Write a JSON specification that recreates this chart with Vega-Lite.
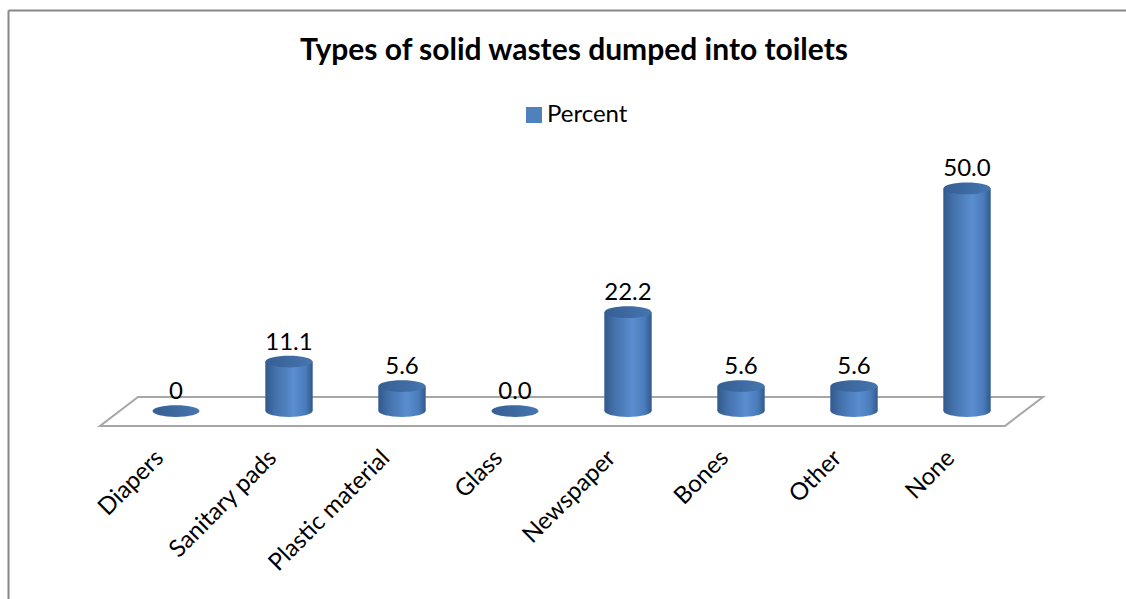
{
  "$schema": "https://vega.github.io/schema/vega-lite/v6.json",
  "autosize": {"type": "none"},
  "width": 1118,
  "height": 589,
  "padding": {"left": 8, "top": 10, "right": 0, "bottom": 0},
  "background": "white",
  "config": {
    "view": {"stroke": null},
    "font": "Lato",
    "axisY": {"labels": false, "ticks": false, "grid": false, "domainColor": "#878787", "domainWidth": 2},
    "axisX": {"grid": false}
  },
  "title": {
    "text": "Types of solid wastes dumped into toilets",
    "font": "Lato",
    "fontSize": 30,
    "fontWeight": "bold",
    "color": "#000000",
    "anchor": "middle",
    "frame": "group",
    "baseline": "alphabetic",
    "offset": -80,
    "dx": 7
  },
  "data": {
    "values": [
      {"category": "Diapers", "percent": 0, "label": "0"},
      {"category": "Sanitary pads", "percent": 11.1, "label": "11.1"},
      {"category": "Plastic material", "percent": 5.6, "label": "5.6"},
      {"category": "Glass", "percent": 0, "label": "0.0"},
      {"category": "Newspaper", "percent": 22.2, "label": "22.2"},
      {"category": "Bones", "percent": 5.6, "label": "5.6"},
      {"category": "Other", "percent": 5.6, "label": "5.6"},
      {"category": "None", "percent": 50.0, "label": "50.0"}
    ]
  },
  "layer": [
    {
      "transform": [{"filter": "datum.category === 'Diapers'"}],
      "mark": {
        "type": "point",
        "shape": "M -0.08444 0.01667 L 0.92111 0.01667 L 0.96333 -0.01556 L -0.04222 -0.01556 Z",
        "size": 3240000,
        "filled": false,
        "stroke": "#a6a6a6",
        "strokeWidth": 2,
        "opacity": 1
      },
      "encoding": {
        "x": {
          "field": "category",
          "type": "nominal",
          "sort": null,
          "scale": {"paddingInner": 0.10619, "paddingOuter": 1, "align": 0.5199, "round": false},
          "axis": {
            "orient": "bottom",
            "offset": -145,
            "domain": false,
            "ticks": false,
            "labelAngle": -45,
            "labelAlign": "right",
            "labelBaseline": "middle",
            "labelPadding": 0,
            "labelOffset": -16,
            "labelFont": "Lato",
            "labelFontSize": 24,
            "labelColor": "#000000",
            "labelOverlap": false,
            "title": null
          }
        },
        "y": {
          "datum": 0,
          "type": "quantitative",
          "scale": {"domain": [-42.247, 90.112], "zero": false, "nice": false},
          "axis": {"orient": "left", "title": null}
        }
      }
    },
    {
      "mark": {"type": "bar", "size": 47},
      "encoding": {
        "x": {
          "field": "category",
          "type": "nominal",
          "sort": null,
          "axis": {"orient": "top", "domain": true, "domainColor": "#878787", "domainWidth": 2, "labels": false, "ticks": false, "title": null}
        },
        "y": {"field": "percent", "type": "quantitative", "title": null},
        "y2": {"datum": 0},
        "color": {
          "datum": "Percent",
          "scale": {"range": ["#4f81bd"]},
          "legend": {
            "orient": "none",
            "legendX": 514,
            "legendY": 93,
            "title": null,
            "padding": 0,
            "symbolType": "square",
            "symbolSize": 256,
            "symbolStrokeWidth": 0,
            "labelFont": "Lato",
            "labelFontSize": 24,
            "labelColor": "#000000",
            "labelOffset": 1
          }
        }
      }
    },
    {
      "transform": [{"filter": "datum.percent > 0"}],
      "mark": {
        "type": "point",
        "shape": "M -1 0 A 1 0.25 0 1 0 1 0 A 1 0.25 0 1 0 -1 0 Z",
        "size": 2209,
        "filled": true,
        "opacity": 1,
        "strokeWidth": 0,
        "fill": {"gradient": "linear", "x1": 0, "y1": 0, "x2": 1, "y2": 0, "stops": [
          {"offset": 0, "color": "#33598b"},
          {"offset": 0.2, "color": "#4270aa"},
          {"offset": 0.6, "color": "#5a8ed0"},
          {"offset": 0.85, "color": "#4a7cbb"},
          {"offset": 1, "color": "#34598a"}
        ]}
      },
      "encoding": {
        "x": {"field": "category", "type": "nominal", "sort": null, "axis": null},
        "y": {"datum": 0, "type": "quantitative"}
      }
    },
    {
      "mark": {
        "type": "bar",
        "size": 47,
        "fill": {"gradient": "linear", "x1": 0, "y1": 0, "x2": 1, "y2": 0, "stops": [
          {"offset": 0, "color": "#33598b"},
          {"offset": 0.2, "color": "#4270aa"},
          {"offset": 0.6, "color": "#5a8ed0"},
          {"offset": 0.85, "color": "#4a7cbb"},
          {"offset": 1, "color": "#34598a"}
        ]}
      },
      "encoding": {
        "x": {"field": "category", "type": "nominal", "sort": null, "axis": null},
        "y": {"field": "percent", "type": "quantitative", "title": null},
        "y2": {"datum": 0}
      }
    },
    {
      "mark": {
        "type": "point",
        "shape": "M -1 0 A 1 0.25 0 1 0 1 0 A 1 0.25 0 1 0 -1 0 Z",
        "size": 2209,
        "filled": true,
        "opacity": 1,
        "strokeWidth": 0,
        "fill": {"gradient": "linear", "x1": 0, "y1": 0, "x2": 1, "y2": 0, "stops": [
          {"offset": 0, "color": "#365f93"},
          {"offset": 1, "color": "#4675b0"}
        ]}
      },
      "encoding": {
        "x": {"field": "category", "type": "nominal", "sort": null, "axis": null},
        "y": {"field": "percent", "type": "quantitative", "title": null}
      }
    },
    {
      "mark": {"type": "text", "font": "Lato", "fontSize": 24, "color": "#000000", "baseline": "alphabetic", "align": "center", "dy": -12},
      "encoding": {
        "x": {"field": "category", "type": "nominal", "sort": null, "axis": null},
        "y": {"field": "percent", "type": "quantitative", "title": null},
        "text": {"field": "label", "type": "nominal"}
      }
    }
  ],
  "resolve": {"axis": {"x": "independent"}}
}
